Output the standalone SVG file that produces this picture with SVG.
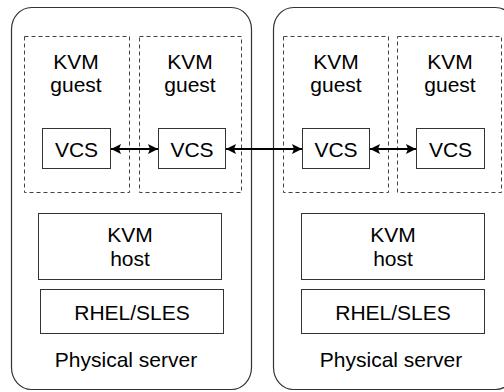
<svg xmlns="http://www.w3.org/2000/svg" width="504" height="392" viewBox="0 0 504 392">
<defs>
<style>
.srv{fill:#fff;stroke:#333;stroke-width:1.2}
.guest{fill:none;stroke:#444;stroke-width:1;stroke-dasharray:4 3}
.box{fill:#fff;stroke:#333;stroke-width:1}
text{font-family:"Liberation Sans",Arial,sans-serif;font-size:21px;fill:#000;text-anchor:middle}
.conn{stroke:#000;stroke-width:2;fill:none;marker-start:url(#ah);marker-end:url(#ah)}
</style>
<marker id="ah" viewBox="0 0 10 10" refX="10" refY="5" markerWidth="5" markerHeight="5" orient="auto-start-reverse" markerUnits="strokeWidth">
<path d="M0,0 L10,5 L0,10 L2,5 z" fill="#000"/>
</marker>
</defs>
<g id="server1">
<rect class="srv" x="11.5" y="7.5" width="240" height="382" rx="20" ry="22"/>
<text x="126" y="367">Physical server</text>
</g>
<g id="server2">
<rect class="srv" x="273.5" y="7.5" width="242" height="382" rx="20" ry="22"/>
<text x="391" y="367">Physical server</text>
</g>
<g id="guest1">
<rect class="guest" x="24.5" y="36.5" width="105" height="156"/>
<text x="76" y="69">KVM</text>
<text x="76" y="92">guest</text>
</g>
<g id="guest2">
<rect class="guest" x="139.5" y="36.5" width="102" height="156"/>
<text x="190" y="69">KVM</text>
<text x="190" y="92">guest</text>
</g>
<g id="guest3">
<rect class="guest" x="283.5" y="36.5" width="105" height="156"/>
<text x="336" y="69">KVM</text>
<text x="336" y="92">guest</text>
</g>
<g id="guest4">
<rect class="guest" x="397.5" y="36.5" width="104" height="156"/>
<text x="450" y="69">KVM</text>
<text x="450" y="92">guest</text>
</g>
<g id="vcs1">
<rect class="box" x="42.5" y="128.5" width="68" height="40"/>
<text x="76.5" y="157">VCS</text>
</g>
<g id="vcs2">
<rect class="box" x="158.5" y="128.5" width="67" height="40"/>
<text x="192" y="157">VCS</text>
</g>
<g id="vcs3">
<rect class="box" x="302.5" y="128.5" width="67" height="40"/>
<text x="336" y="157">VCS</text>
</g>
<g id="vcs4">
<rect class="box" x="416.5" y="128.5" width="68" height="40"/>
<text x="450.5" y="157">VCS</text>
</g>
<g id="host1">
<rect class="box" x="38.5" y="213.5" width="183" height="66"/>
<text x="130" y="242">KVM</text>
<text x="130" y="266">host</text>
</g>
<g id="host2">
<rect class="box" x="301.5" y="213.5" width="183" height="66"/>
<text x="393" y="242">KVM</text>
<text x="393" y="266">host</text>
</g>
<g id="os1">
<rect class="box" x="40.5" y="289.5" width="183" height="44"/>
<text x="132" y="320">RHEL/SLES</text>
</g>
<g id="os2">
<rect class="box" x="301.5" y="289.5" width="183" height="44"/>
<text x="393" y="320">RHEL/SLES</text>
</g>
<g id="connectors">
<line class="conn" x1="111" y1="149" x2="158" y2="149"/>
<line class="conn" x1="226" y1="149" x2="302" y2="149"/>
<line class="conn" x1="370" y1="149" x2="416" y2="149"/>
</g>
</svg>
